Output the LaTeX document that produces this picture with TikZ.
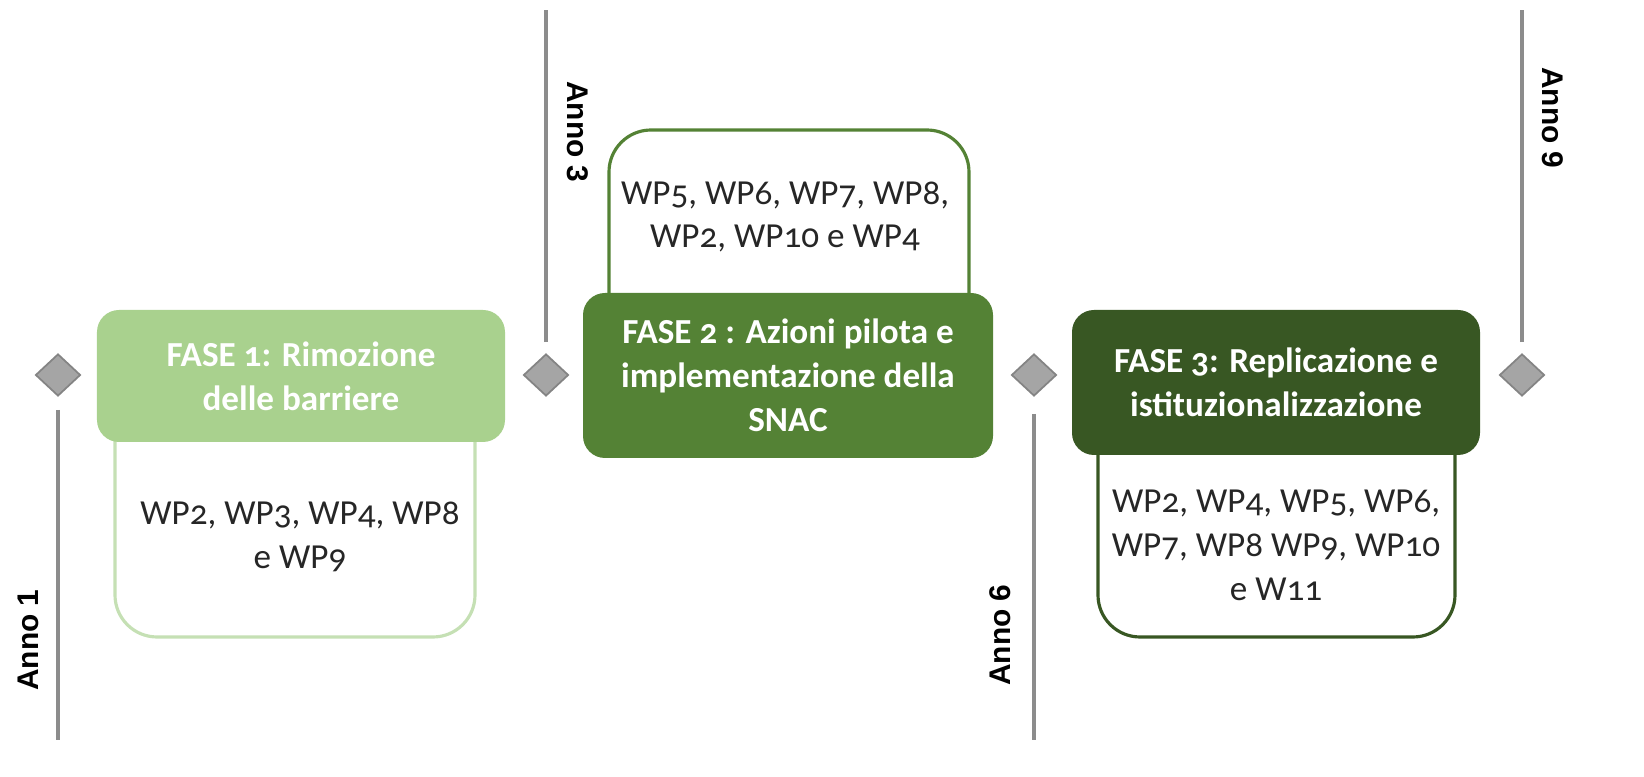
\documentclass[tikz,border=0pt]{standalone}
\usepackage{fontspec}
\setmainfont{Carlito}[Numbers=OldStyle]
\newfontfamily\annofont{Liberation Sans}
\usetikzlibrary{shapes.geometric, positioning}
\definecolor{fase1}{HTML}{A9D18E}
\definecolor{fase1line}{HTML}{C5E0B4}
\definecolor{fase2}{HTML}{548235}
\definecolor{fase3}{HTML}{385723}
\definecolor{milestone}{HTML}{A5A5A5}
\definecolor{yearline}{HTML}{8C8C8C}

\begin{document}
\begin{tikzpicture}[
	fase/.style={rounded corners=0.22cm, text=white, align=center, inner sep=0pt, font=\bfseries\fontsize{10}{12.5}\selectfont},
	wpbox/.style={draw, line width=0.9pt, fill=white, rounded corners=0.42cm, inner sep=0pt},
	wp/.style={align=center, text=black!85, font=\fontsize{10}{12.5}\selectfont},
	milestone/.style={diamond, fill=milestone, draw=milestone!80!black, line width=0.5pt, minimum width=0.45cm, minimum height=0.42cm, inner sep=0pt},
	anno/.style={font=\annofont\bfseries\fontsize{8.5}{10}\selectfont},
	year/.style={draw=yearline, line width=0.9pt}
]

	\useasboundingbox (0,0) rectangle (16.44,-7.77);

	\node[wpbox, draw=fase1line, minimum width=3.6cm, minimum height=2.77cm] (b1) at (2.95,-4.985) {};
	\node[wpbox, draw=fase2, minimum width=3.6cm, minimum height=2.7cm] (b2) at (7.89,-2.65) {};
	\node[wpbox, draw=fase3, minimum width=3.57cm, minimum height=2.57cm] (b3) at (12.765,-5.085) {};

	\node[fase, fill=fase1, minimum width=4.08cm, minimum height=1.32cm] (f1) at (3.01,-3.76) {FASE 1: Rimozione\\delle barriere};
	\node[fase, fill=fase2, minimum width=4.10cm, minimum height=1.65cm] (f2) at (7.88,-3.755) {FASE 2 : Azioni pilota e\\implementazione della\\SNAC};
	\node[fase, fill=fase3, minimum width=4.08cm, minimum height=1.45cm] (f3) at (12.76,-3.825) {FASE 3: Replicazione e\\istituzionalizzazione};

	\node[wp] (w1) at (3.0,-5.37) {WP2, WP3, WP4, WP8\\e WP9};
	\node[wp] (w2) at (7.85,-2.17) {WP5, WP6, WP7, WP8,\\WP2, WP10 e WP4};
	\node[wp] (w3) at (12.76,-5.45) {WP2, WP4, WP5, WP6,\\WP7, WP8 WP9, WP10\\e W11};

	\foreach \x [count=\i] in {0.58,5.46,10.34,15.22}
		\node[milestone] (m\i) at (\x,-3.75) {};

	\coordinate (e1) at (0.58,-7.40);
	\coordinate (e2) at (5.46,-0.10);
	\coordinate (e3) at (10.34,-7.40);
	\coordinate (e4) at (15.22,-0.10);

	\draw[year] ([yshift=-0.13cm]m1.south) -- (e1);
	\draw[year] ([yshift=0.11cm]m2.north) -- (e2);
	\draw[year] ([yshift=-0.17cm]m3.south) -- (e3);
	\draw[year] ([yshift=0.11cm]m4.north) -- (e4);

	\node[anno, rotate=90] (a1) at (0.28,-6.40) {Anno 1};
	\node[anno, rotate=-90] (a2) at (5.78,-1.32) {Anno 3};
	\node[anno, rotate=90] (a3) at (10.00,-6.35) {Anno 6};
	\node[anno, rotate=-90] (a4) at (15.53,-1.18) {Anno 9};

\end{tikzpicture}
\end{document}
